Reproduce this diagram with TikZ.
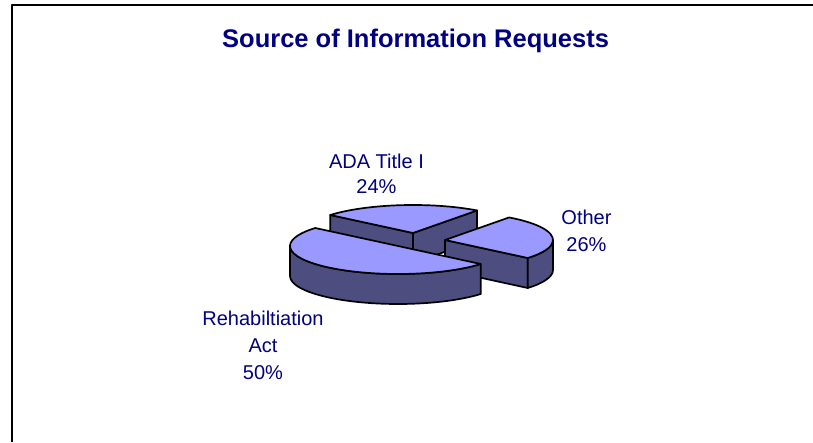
\documentclass[tikz,border=0pt]{standalone}
\usepackage{fontspec}
\setmainfont{Liberation Sans}
\usepackage{xcolor}
\usepackage{tikz}

\definecolor{navy}{RGB}{0,0,128}
\definecolor{pieTop}{RGB}{153,153,255}
\definecolor{pieSide}{RGB}{77,77,128}

\begin{document}
\begin{tikzpicture}[x=1pt, y=1pt, line join=round]
    \tikzstyle{topface}=[fill=pieTop, draw=black, line width=1.7]
    \tikzstyle{sideface}=[fill=pieSide, draw=black, line width=1.7]
    \tikzstyle{lbl}=[text=navy, font=\fontsize{20}{27}\selectfont, align=center, inner sep=0, anchor=north]
    \useasboundingbox (0,0) rectangle (813,442);
    \draw[line width=2] (12,0) -- (12,437) -- (813,437);

    \node[anchor=base west, inner sep=0, text=navy, font=\bfseries\fontsize{25.5}{30}\selectfont] (title) at (222,394.5) {Source of Information Requests};

    \coordinate (ada) at (413,209);
    \coordinate (adab) at (413,179);
    \coordinate (other) at (445,202);
    \coordinate (otherb) at (445,172);
    \coordinate (rehab) at (398,196);

    % ADA Title I
    \draw[sideface] (ada) -- ++(140:108pt and 28pt) -- ++(0,-30) -- (adab) -- cycle;
    \draw[sideface] (ada) -- ++(53.6:108pt and 28pt) -- ++(0,-30) -- (adab) -- cycle;
    \draw[topface] (ada) -- ++(53.6:108pt and 28pt) arc[start angle=53.6, end angle=140, x radius=108pt, y radius=28pt] -- cycle;

    % Other
    \draw[sideface] (other) -- ++(320:108pt and 28pt) -- ++(0,-30) -- (otherb) -- cycle;
    \draw[sideface] (other) ++(320:108pt and 28pt) arc[start angle=320, end angle=360, x radius=108pt, y radius=28pt] -- ++(0,-30) arc[start angle=360, end angle=320, x radius=108pt, y radius=28pt] -- cycle;
    \draw[topface] (other) -- ++(320:108pt and 28pt) arc[start angle=320, end angle=413.6, x radius=108pt, y radius=28pt] -- cycle;

    % Rehabiltiation Act
    \draw[sideface] (rehab) ++(180:108pt and 28pt) arc[start angle=180, end angle=320, x radius=108pt, y radius=28pt] -- ++(0,-30) arc[start angle=320, end angle=180, x radius=108pt, y radius=28pt] -- cycle;
    \draw[topface] (rehab) -- ++(140:108pt and 28pt) arc[start angle=140, end angle=320, x radius=108pt, y radius=28pt] -- cycle;

    \node[lbl, font=\fontsize{20}{25}\selectfont] (adaLabel) at (376.5,288) {ADA Title I\\24\%};
    \node[lbl] (otherLabel) at (586.5,232) {Other\\26\%};
    \node[lbl] (rehabLabel) at (263,131.5) {Rehabiltiation\\Act\\50\%};
\end{tikzpicture}
\end{document}
